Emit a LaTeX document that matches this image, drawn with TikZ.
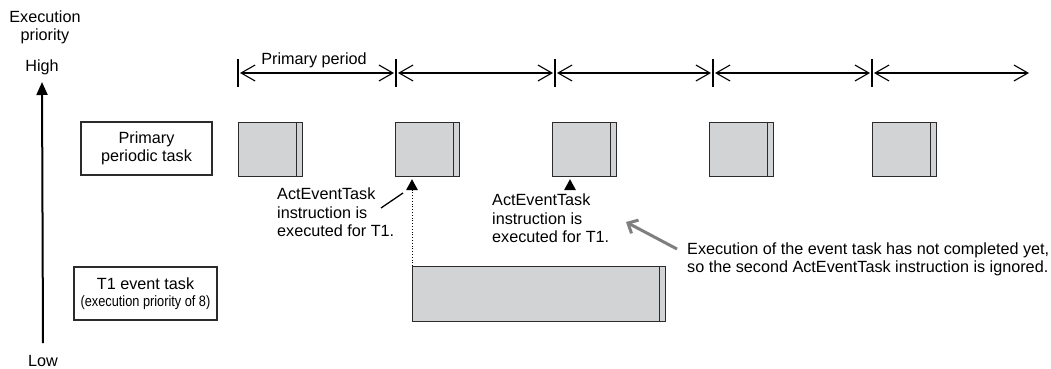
\documentclass[tikz,border=0pt]{standalone}
\usepackage{fontspec}
\setmainfont{Liberation Sans}
\usetikzlibrary{arrows.meta,positioning,calc}

\definecolor{jobgray}{HTML}{D1D3D4}
\definecolor{edgegray}{HTML}{2B2B2B}
\definecolor{notegray}{HTML}{7F7F7F}

\tikzset{
	txt/.style={font=\fontsize{16.2}{18.5}\selectfont,inner sep=0pt},
	note/.style={txt,align=left,anchor=north west},
	taskname/.style={txt,draw=edgegray,line width=1.2pt,minimum height=53pt,align=center},
	job/.style={draw=edgegray,line width=1.2pt,fill=jobgray,inner sep=0pt,minimum height=54pt,anchor=north west},
	span/.style={line width=1.1pt,{Straight Barb[length=14pt,width=16pt]}-{Straight Barb[length=14pt,width=16pt]}},
}

\begin{document}
\begin{tikzpicture}[x=1pt,y=-1pt]
				\useasboundingbox (0,0) rectangle (1051,369);

				\node[txt,align=center] (prio) at (45,27.5) {Execution\\priority};
				\node[txt] (high) at (42,67) {High};
				\node[txt] (low) at (43,361) {Low};
				\draw[line width=2pt,-{Triangle[length=13pt,width=11pt]}] (low.north |- 0,343) -- (high.south |- 0,82);

				\node[taskname,minimum width=131pt] (ppt) at (146.5,148.5) {Primary\\periodic task};
				\node[taskname,minimum width=143pt] (evt) at (145.5,293.5) {T1 event task\\[-1pt]\fontsize{15}{18}\selectfont\scalebox{.85}[1]{(execution priority of 8)}};

				\foreach \x [count=\i] in {238,396,555,713,872,1029}
					\coordinate (t\i) at (\x,73);
				\foreach \i in {1,...,5}
					\draw[line width=1.1pt] ([yshift=14pt]t\i) -- ([yshift=-14pt]t\i);
				\foreach \i [evaluate=\i as \j using int(\i+1)] in {1,...,4}
					\draw[span] ([xshift=2pt]t\i) -- ([xshift=-2pt]t\j);
				\draw[span] ([xshift=2pt]t5) -- (t6);
				\node[txt] (period) at (314,60.5) {Primary period};

				\foreach \x [count=\i] in {238,395,552,709,872}
					\node[job,minimum width=64pt] (p\i) at (\x,122) {};
				\node[job,minimum width=253pt,minimum height=55pt] (ev) at (412,266) {};
				\foreach \n in {p1,p2,p3,p4,p5,ev}
					\draw[edgegray,line width=1.2pt] ([xshift=-7pt]\n.north east) -- ([xshift=-7pt]\n.south east);

				\coordinate (a1) at ($(p2.south west)+(17,2)$);
				\coordinate (a2) at ($(p3.south west)+(18,2)$);
				\foreach \a in {a1,a2}
					\fill (\a) -- ++(-6,11) -- ++(12,0) -- cycle;
				\draw[dotted,line width=.8pt] (ev.north west) -- ($(a1)+(0,11)$);

				\node[note] (n1) at (277,188) {ActEventTask\\instruction is\\executed for T1.};
				\node[note] (n2) at (492,194) {ActEventTask\\instruction is\\executed for T1.};
				\node[note,font=\fontsize{16.2}{18}\selectfont] (n3) at (687,243) {Execution of the event task has not completed yet,\\so the second ActEventTask instruction is ignored.};

				\coordinate (l1) at (381,208);
				\draw[line width=1.3pt] (l1) -- ++(22,-15);
				\coordinate (g1) at (677,249);
				\coordinate (g2) at (626,222);
				\draw[notegray,line width=3pt,-{Straight Barb[length=8pt,width=15pt]}] (g1) -- (g2);
			\end{tikzpicture}
\end{document}
